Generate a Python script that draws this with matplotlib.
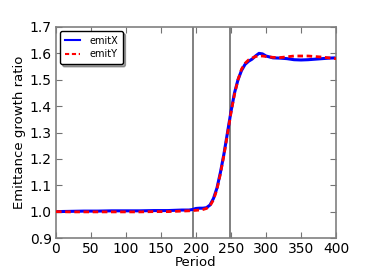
import matplotlib
matplotlib.use("Agg")
import matplotlib.pyplot as plt

# ------------------------- DATOS ------------------------- #
period_x = [0, 20, 40, 60, 80, 100, 120, 140, 160, 180, 190, 195, 200, 205, 210,
            215, 220, 225, 230, 235, 240, 245, 250, 255, 260, 265, 270, 275,
            280, 285, 290, 295, 300, 310, 320, 330, 340, 350, 360, 370, 380,
            390, 400]
emit_x = [1.000, 1.001, 1.002, 1.002, 1.003, 1.003, 1.003, 1.004, 1.004, 1.006,
          1.006, 1.008, 1.012, 1.013, 1.013, 1.015, 1.025, 1.050, 1.090, 1.150,
          1.220, 1.300, 1.380, 1.450, 1.500, 1.535, 1.558, 1.570, 1.578, 1.590,
          1.600, 1.598, 1.590, 1.583, 1.582, 1.580, 1.576, 1.575, 1.576, 1.578,
          1.580, 1.582, 1.583]

period_y = [0, 20, 40, 60, 80, 100, 120, 140, 160, 180, 190, 195, 200, 205, 210,
            215, 220, 225, 230, 235, 240, 245, 250, 255, 260, 265, 270, 275,
            280, 285, 290, 295, 300, 310, 320, 330, 340, 350, 360, 370, 380,
            390, 400]
emit_y = [1.000, 0.999, 0.999, 0.999, 0.999, 0.999, 0.999, 1.000, 1.000, 1.002,
          1.003, 1.004, 1.005, 1.006, 1.008, 1.012, 1.022, 1.045, 1.085, 1.145,
          1.215, 1.295, 1.375, 1.445, 1.500, 1.540, 1.562, 1.575, 1.582, 1.588,
          1.590, 1.590, 1.588, 1.585, 1.584, 1.587, 1.590, 1.590, 1.590, 1.588,
          1.586, 1.583, 1.580]

lineas_verticales = [195, 249]

# ------------------------- GRAFICO ------------------------- #
fig = plt.figure(figsize=(3.74, 2.8), dpi=100)
ax = fig.add_axes([56 / 374, 1 - 238 / 280, 280 / 374, 211 / 280])

for xv in lineas_verticales:
    ax.axvline(xv, color="0.42", linewidth=1.2, zorder=1)

ax.plot(period_x, emit_x, color="blue", linewidth=2.2, label="emitX", zorder=2)
ax.plot(period_y, emit_y, color="red", linewidth=2.0, linestyle="--",
        dashes=(2, 1.3), label="emitY", zorder=3)

ax.set_xlim(0, 400)
ax.set_ylim(0.9, 1.7)
ax.set_xticks(range(0, 401, 50))
ax.set_yticks([0.9, 1.0, 1.1, 1.2, 1.3, 1.4, 1.5, 1.6, 1.7])
ax.tick_params(labelsize=10, direction="in", length=4, top=True, right=True,
               pad=3, color="0.45")
for sp in ax.spines.values():
    sp.set_color("0.5")
    sp.set_linewidth(1.2)
ax.set_xlabel("Period", fontsize=9.5, labelpad=0)
ax.set_ylabel("Emittance growth ratio", fontsize=9.5, labelpad=3)

leg = ax.legend(loc="upper left", fontsize=7, shadow=True, fancybox=True,
                handlelength=1.6, handletextpad=0.9, borderpad=0.5,
                labelspacing=0.35, framealpha=1, borderaxespad=0.4)
leg.get_frame().set_edgecolor("black")
for ln in leg.get_lines():
    ln.set_linewidth(1.5)

fig.savefig("out.png", dpi=100)
